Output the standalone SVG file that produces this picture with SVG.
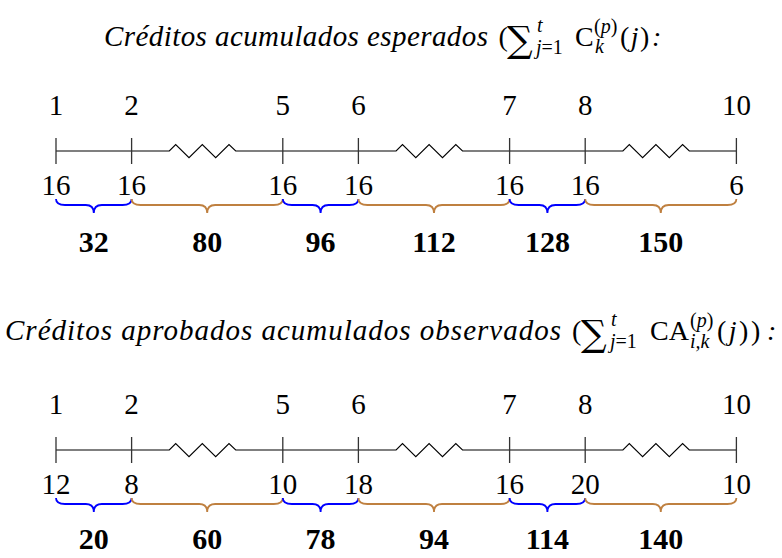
<svg xmlns="http://www.w3.org/2000/svg" width="782" height="558" viewBox="0 0 782 558">
<style>
.bg{fill:#fff}
.ti{font-family:"Liberation Serif","Times New Roman",serif;font-style:italic;font-size:29px;fill:#000}
.rm{font-family:"Liberation Serif","Times New Roman",serif;font-size:28px;fill:#000}
.sc{font-family:"Liberation Serif","Times New Roman",serif;font-size:20px;fill:#000}
.it{font-style:italic}
.sum{font-family:"DejaVu Serif",serif;font-size:36px;fill:#000}
.num{font-family:"Liberation Serif","Times New Roman",serif;font-size:29px;fill:#000;text-anchor:middle}
.bold{font-family:"Liberation Serif","Times New Roman",serif;font-size:30px;font-weight:bold;fill:#000;text-anchor:middle}
.axis{fill:none;stroke:#000;stroke-width:1.1;stroke-linejoin:miter}
.tick{fill:none;stroke:#333;stroke-width:1.3}
.bb{fill:none;stroke:#0000ff;stroke-width:1.8}
.br{fill:none;stroke:#bf8040;stroke-width:1.8}
</style>
<rect class="bg" x="0" y="0" width="782" height="558"/>

<g id="title-expected">
<text class="ti" x="104" y="46" textLength="384" lengthAdjust="spacing">Créditos acumulados esperados</text>
<text class="rm" x="498.5" y="46">(</text>
<text class="sum" x="507" y="52">∑</text>
<text class="sc it" x="537" y="32">t</text>
<text class="sc" x="536" y="54"><tspan class="it">j</tspan>=1</text>
<text class="rm" x="575" y="46">C</text>
<text class="sc" x="594" y="33">(<tspan class="it">p</tspan>)</text>
<text class="sc it" x="595" y="53">k</text>
<text class="rm" x="620" y="46" letter-spacing="1.5">(<tspan class="it">j</tspan>)</text>
<text class="rm it" x="652" y="46">:</text>
</g>

<g id="timeline-expected">
<g id="axis-expected">
<path class="axis" d="M56 151 L169.3 151 L175.7 144.5 L189 157.7 L202.3 144.5 L215.7 157.7 L229 144.5 L235.7 151 L396.1 151 L402.5 144.5 L415.8 157.7 L429.1 144.5 L442.5 157.7 L455.8 144.5 L462.5 151 L622.9 151 L629.3 144.5 L642.6 157.7 L655.9 144.5 L669.3 157.7 L682.6 144.5 L689.3 151 L736.4 151"/>
<path class="tick" d="M56 138V164M131.6 138V164M282.8 138V164M358.4 138V164M509.6 138V164M585.2 138V164M736.4 138V164"/>
</g>
<g id="periods-expected">
<text class="num" x="56" y="115">1</text>
<text class="num" x="131.6" y="115">2</text>
<text class="num" x="282.8" y="115">5</text>
<text class="num" x="358.4" y="115">6</text>
<text class="num" x="509.6" y="115">7</text>
<text class="num" x="585.2" y="115">8</text>
<text class="num" x="736.4" y="115">10</text>
</g>
<g id="values-expected">
<text class="num" x="56" y="195">16</text>
<text class="num" x="131.6" y="195">16</text>
<text class="num" x="282.8" y="195">16</text>
<text class="num" x="358.4" y="195">16</text>
<text class="num" x="509.6" y="195">16</text>
<text class="num" x="585.2" y="195">16</text>
<text class="num" x="736.4" y="195">6</text>
</g>
<g id="braces-expected">
<path class="bb" d="M56 199 C56 203 59 205 65 205 L85.8 205 C90.8 205 93.8 207 93.8 213 C93.8 207 96.8 205 101.8 205 L122.6 205 C128.6 205 131.6 203 131.6 199"/>
<path class="br" d="M131.6 199 C131.6 203 134.6 205 140.6 205 L199.2 205 C204.2 205 207.2 207 207.2 213 C207.2 207 210.2 205 215.2 205 L273.8 205 C279.8 205 282.8 203 282.8 199"/>
<path class="bb" d="M282.8 199 C282.8 203 285.8 205 291.8 205 L312.6 205 C317.6 205 320.6 207 320.6 213 C320.6 207 323.6 205 328.6 205 L349.4 205 C355.4 205 358.4 203 358.4 199"/>
<path class="br" d="M358.4 199 C358.4 203 361.4 205 367.4 205 L426 205 C431 205 434 207 434 213 C434 207 437 205 442 205 L500.6 205 C506.6 205 509.6 203 509.6 199"/>
<path class="bb" d="M509.6 199 C509.6 203 512.6 205 518.6 205 L539.4 205 C544.4 205 547.4 207 547.4 213 C547.4 207 550.4 205 555.4 205 L576.2 205 C582.2 205 585.2 203 585.2 199"/>
<path class="br" d="M585.2 199 C585.2 203 588.2 205 594.2 205 L652.8 205 C657.8 205 660.8 207 660.8 213 C660.8 207 663.8 205 668.8 205 L727.4 205 C733.4 205 736.4 203 736.4 199"/>
</g>
<g id="sums-expected">
<text class="bold" x="93.8" y="252">32</text>
<text class="bold" x="207.2" y="252">80</text>
<text class="bold" x="320.6" y="252">96</text>
<text class="bold" x="434" y="252">112</text>
<text class="bold" x="547.4" y="252">128</text>
<text class="bold" x="660.8" y="252">150</text>
</g>
</g>

<g id="title-observed">
<text class="ti" x="5" y="340" textLength="556" lengthAdjust="spacing">Créditos aprobados acumulados observados</text>
<text class="rm" x="572" y="340">(</text>
<text class="sum" x="581" y="346">∑</text>
<text class="sc it" x="611" y="326">t</text>
<text class="sc" x="610" y="348"><tspan class="it">j</tspan>=1</text>
<text class="rm" x="650" y="340">CA</text>
<text class="sc" x="690" y="327">(<tspan class="it">p</tspan>)</text>
<text class="sc it" x="690" y="348">i,k</text>
<text class="rm" x="717" y="340" letter-spacing="2.5">(<tspan class="it">j</tspan>))</text>
<text class="rm it" x="767" y="340">:</text>
</g>

<g id="timeline-observed" transform="translate(0,299)">
<g id="axis-observed">
<path class="axis" d="M56 151 L169.3 151 L175.7 144.5 L189 157.7 L202.3 144.5 L215.7 157.7 L229 144.5 L235.7 151 L396.1 151 L402.5 144.5 L415.8 157.7 L429.1 144.5 L442.5 157.7 L455.8 144.5 L462.5 151 L622.9 151 L629.3 144.5 L642.6 157.7 L655.9 144.5 L669.3 157.7 L682.6 144.5 L689.3 151 L736.4 151"/>
<path class="tick" d="M56 138V164M131.6 138V164M282.8 138V164M358.4 138V164M509.6 138V164M585.2 138V164M736.4 138V164"/>
</g>
<g id="periods-observed">
<text class="num" x="56" y="115">1</text>
<text class="num" x="131.6" y="115">2</text>
<text class="num" x="282.8" y="115">5</text>
<text class="num" x="358.4" y="115">6</text>
<text class="num" x="509.6" y="115">7</text>
<text class="num" x="585.2" y="115">8</text>
<text class="num" x="736.4" y="115">10</text>
</g>
<g id="values-observed">
<text class="num" x="56" y="195">12</text>
<text class="num" x="131.6" y="195">8</text>
<text class="num" x="282.8" y="195">10</text>
<text class="num" x="358.4" y="195">18</text>
<text class="num" x="509.6" y="195">16</text>
<text class="num" x="585.2" y="195">20</text>
<text class="num" x="736.4" y="195">10</text>
</g>
<g id="braces-observed">
<path class="bb" d="M56 199 C56 203 59 205 65 205 L85.8 205 C90.8 205 93.8 207 93.8 213 C93.8 207 96.8 205 101.8 205 L122.6 205 C128.6 205 131.6 203 131.6 199"/>
<path class="br" d="M131.6 199 C131.6 203 134.6 205 140.6 205 L199.2 205 C204.2 205 207.2 207 207.2 213 C207.2 207 210.2 205 215.2 205 L273.8 205 C279.8 205 282.8 203 282.8 199"/>
<path class="bb" d="M282.8 199 C282.8 203 285.8 205 291.8 205 L312.6 205 C317.6 205 320.6 207 320.6 213 C320.6 207 323.6 205 328.6 205 L349.4 205 C355.4 205 358.4 203 358.4 199"/>
<path class="br" d="M358.4 199 C358.4 203 361.4 205 367.4 205 L426 205 C431 205 434 207 434 213 C434 207 437 205 442 205 L500.6 205 C506.6 205 509.6 203 509.6 199"/>
<path class="bb" d="M509.6 199 C509.6 203 512.6 205 518.6 205 L539.4 205 C544.4 205 547.4 207 547.4 213 C547.4 207 550.4 205 555.4 205 L576.2 205 C582.2 205 585.2 203 585.2 199"/>
<path class="br" d="M585.2 199 C585.2 203 588.2 205 594.2 205 L652.8 205 C657.8 205 660.8 207 660.8 213 C660.8 207 663.8 205 668.8 205 L727.4 205 C733.4 205 736.4 203 736.4 199"/>
</g>
<g id="sums-observed">
<text class="bold" x="93.8" y="250">20</text>
<text class="bold" x="207.2" y="250">60</text>
<text class="bold" x="320.6" y="250">78</text>
<text class="bold" x="434" y="250">94</text>
<text class="bold" x="547.4" y="250">114</text>
<text class="bold" x="660.8" y="250">140</text>
</g>
</g>
</svg>
